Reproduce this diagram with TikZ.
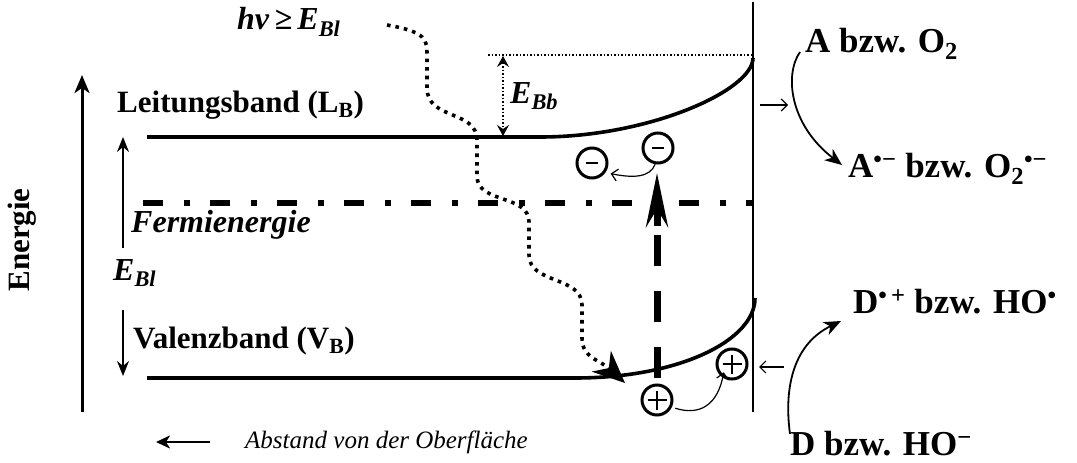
\documentclass[tikz,border=0pt]{standalone}
\usepackage{fontspec}
\setmainfont{Liberation Serif}
\usetikzlibrary{arrows.meta}
\begin{document}
\begin{tikzpicture}[x=1pt,y=-1pt,
  lbl/.style={inner sep=0pt, anchor=base west, font=\fontsize{31}{34}\selectfont\bfseries},
  rlbl/.style={inner sep=0pt, anchor=base west, font=\fontsize{35}{38}\selectfont\bfseries},
  bilbl/.style={inner sep=0pt, anchor=base west, font=\fontsize{32}{34}\selectfont\bfseries\itshape},
  band/.style={line width=3.6pt},
  elec/.style={circle, draw, line width=3pt, minimum size=30pt, inner sep=0pt},
  thinarr/.style={line width=1.2pt, -{Straight Barb[length=6pt,width=12pt]}},
  curvarr/.style={line width=1.8pt, -{Stealth[length=17pt,width=14pt,inset=5pt]}},
  gaparr/.style={line width=1.4pt, -{Stealth[length=15pt,width=12pt,inset=5pt]}},
  photon/.style={line width=3.6pt, dash pattern=on 3.6pt off 5pt, -{Stealth[length=32pt,width=28pt,inset=10pt]}},
  thindot/.style={line width=1.2pt, dash pattern=on 1.5pt off 2pt}
]
\useasboundingbox (0,0) rectangle (1077,463);

% energy axis
\coordinate (ax0) at (82,412);
\coordinate (ax1) at (82,75);
\draw[line width=3pt, -{Stealth[length=18pt,width=15pt,inset=5pt]}] (ax0) -- (ax1);
\node[inner sep=0pt, rotate=90, font=\fontsize{31}{33}\selectfont\bfseries] (energie) at (22,240) {Energie};

% surface line
\coordinate (s0) at (753,2);
\coordinate (s1) at (753,412);
\draw[line width=1.8pt] (s0) -- (s1);

% bands
\coordinate (cb0) at (147,137);
\coordinate (cb1) at (753,58);
\draw[band] (cb0) -- (540,137) .. controls (650,137) and (753,90) .. (cb1);
\coordinate (vb0) at (147,378);
\coordinate (vb1) at (755,298);
\draw[band] (vb0) -- (575,378) .. controls (680,378) and (755,340) .. (vb1);

% Fermi level
\coordinate (f0) at (143,203);
\coordinate (f1) at (753,203);
\draw[line width=6pt, dash pattern=on 20pt off 21pt on 6pt off 20pt] (f0) -- (f1);

% band bending reference
\coordinate (bb0) at (488,55);
\coordinate (bb1) at (753,55);
\draw[thindot] (bb0) -- (bb1);
\coordinate (ebb0) at (503,56);
\coordinate (ebb1) at (503,136);
\draw[thindot, {Stealth[length=11pt,width=12pt,inset=4pt]}-{Stealth[length=11pt,width=12pt,inset=4pt]}] (ebb0) -- (ebb1);
\node[bilbl] (Ebb) at (510,103) {E\textsubscript{Bb}};

% band gap arrows
\coordinate (g0) at (123,248);
\coordinate (g1) at (123,137);
\coordinate (g2) at (123,310);
\coordinate (g3) at (123,376);
\draw[gaparr] (g0) -- (g1);
\draw[gaparr] (g2) -- (g3);
\node[bilbl] (Ebl) at (113,280) {E\textsubscript{Bl}};

% labels
\node[lbl] (lb) at (117,112) {Leitungsband (L\textsubscript{B})};
\node[lbl] (vb) at (133,348) {Valenzband (V\textsubscript{B})};
\node[bilbl] (fermi) at (131,232) {Fermienergie};
\node[bilbl] (hv) at (237,30) {hν\,≥\,E\textsubscript{Bl}};

% photon path
\coordinate (p0) at (387,25);
\coordinate (p1) at (625,383);
\draw[photon] (p0) .. controls (427,32) and (427,40) .. (427,55) -- (427,88)
  .. controls (427,120) and (477,110) .. (477,140) -- (477,176)
  .. controls (477,204) and (529,194) .. (529,222) -- (529,255)
  .. controls (529,284) and (582,276) .. (582,305) -- (582,338)
  .. controls (582,358) and (600,360) .. (p1);

% excitation arrow
\coordinate (x0) at (657,378);
\coordinate (x1) at (657,235);
\coordinate (x2) at (657,226);
\coordinate (x3) at (657,173);
\draw[line width=7pt, dash pattern=on 31pt off 25pt] (x0) -- (x1);
\draw[line width=7pt, -{Stealth[length=54pt,width=22pt,inset=18pt]}] (x2) -- (x3);

% electrons
\node[elec] (e1) at (658,148) {};
\node[elec] (e2) at (592,163) {};
\draw[line width=2.2pt] ([xshift=-6pt]e1.center) -- ([xshift=6pt]e1.center);
\draw[line width=2.2pt] ([xshift=-6pt]e2.center) -- ([xshift=6pt]e2.center);
\draw[thinarr] (e1.-100) .. controls (650,178) and (632,178) .. ([xshift=6pt]e2.-40);

% holes
\node[elec] (h1) at (657,400) {};
\node[elec] (h2) at (732,364) {};
\foreach \h in {h1,h2}{
  \draw[line width=2.4pt] ([xshift=-9.5pt]\h.center) -- ([xshift=9.5pt]\h.center)
    ([yshift=-9.5pt]\h.center) -- ([yshift=9.5pt]\h.center);
}
\draw[thinarr] ([xshift=4pt]h1.-30) .. controls (700,416) and (718,405) .. ([yshift=6pt]h2.-120);

% surface transfer arrows
\coordinate (t0) at (760,105);
\coordinate (t1) at (788,105);
\draw[thinarr] (t0) -- (t1);
\coordinate (t2) at (784,367);
\coordinate (t3) at (759,367);
\draw[thinarr] (t2) -- (t3);

% redox labels
\node[rlbl] (A) at (805,52) {A bzw. O\textsubscript{2}};
\node[rlbl] (Am) at (848,177) {A\textsuperscript{•−} bzw. O\textsubscript{2}\textsuperscript{•−}};
\node[rlbl] (Dp) at (853,313) {D\textsuperscript{•\,+} bzw. HO\textsuperscript{•}};
\node[rlbl] (D) at (790,455) {D bzw. HO\textsuperscript{−}};
\coordinate (as) at (800,52);
\coordinate (ae) at (842,165);
\draw[curvarr] (as) .. controls (784,75) and (790,125) .. (ae);
\coordinate (ds) at (790,434);
\coordinate (de) at (841,321);
\draw[curvarr] (ds) .. controls (784,390) and (792,345) .. (de);

% distance axis
\coordinate (d0) at (210,442);
\coordinate (d1) at (156,442);
\draw[line width=2.6pt, -{Stealth[length=14pt,width=13pt,inset=4pt]}] (d0) -- (d1);
\node[inner sep=0pt, anchor=base west, font=\fontsize{25}{28}\selectfont\itshape] (abst) at (245,448) {Abstand von der Oberfläche};
\end{tikzpicture}
\end{document}
